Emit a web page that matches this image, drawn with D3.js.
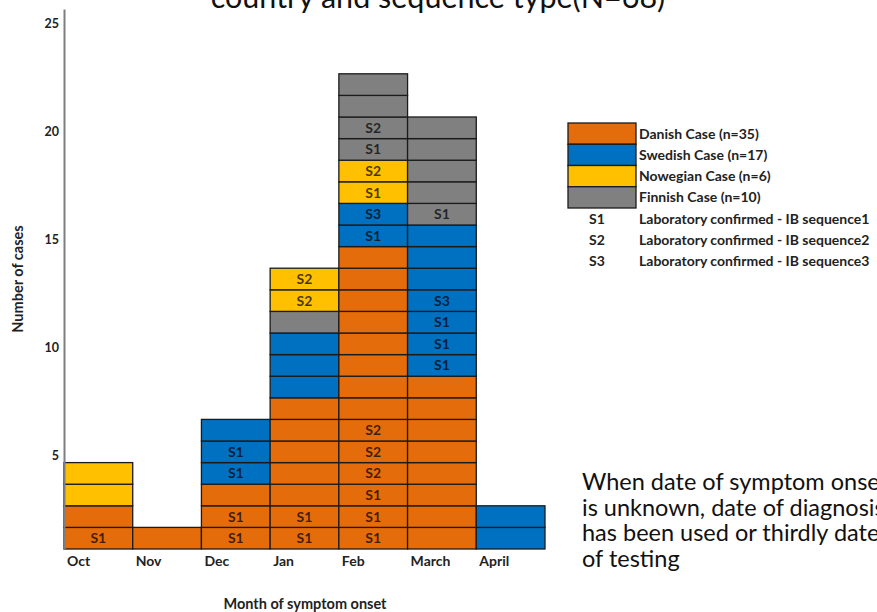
<!DOCTYPE html>
<html>
<head>
<meta charset="utf-8">
<script src="https://cdn.jsdelivr.net/npm/d3@7"></script>
<style>
  html, body { margin: 0; padding: 0; background: #fff; }
  svg { display: block; font-family: "Lato", "Open Sans", sans-serif; }
</style>
</head>
<body>
<svg id="chart" width="877" height="612"></svg>
<script>
// Month categories along the x axis
const months = ["Oct", "Nov", "Dec", "Jan", "Feb", "March", "April"];

// Number of cases per month for each country
const danishCases    = [2, 1, 3, 7, 14, 8, 0];
const swedishCases   = [0, 0, 3, 3, 2, 7, 2];
const norwegianCases = [2, 0, 0, 2, 2, 0, 0];
const finnishCases   = [0, 0, 0, 1, 4, 5, 0];

// Sequence type of each case, listed from the bottom of each country's block
const danishSeq    = [["S1"], [], ["S1", "S1"], ["S1", "S1"], ["S1", "S1", "S1", "S2", "S2", "S2"], [], []];
const swedishSeq   = [[], [], ["S1", "S1"], [], ["S1", "S3"], ["S1", "S1", "S1", "S3"], []];
const norwegianSeq = [[], [], [], ["S2", "S2"], ["S1", "S2"], [], []];
const finnishSeq   = [[], [], [], [], ["S1", "S2"], ["S1"], []];

// Stacking order of the countries within each month (bottom to top)
const stackOrder = [
  ["DK", "SE", "NO", "FI"],
  ["DK", "SE", "NO", "FI"],
  ["DK", "SE", "NO", "FI"],
  ["DK", "SE", "FI", "NO"],
  ["DK", "SE", "NO", "FI"],
  ["DK", "SE", "NO", "FI"],
  ["DK", "SE", "NO", "FI"]
];

// Country keys, legend names and fills
const countryKeys   = ["DK", "SE", "NO", "FI"];
const countryLabels = ["Danish Case", "Swedish Case", "Nowegian Case", "Finnish Case"];
const countryColors = ["#E46C0A", "#0070C0", "#FFC000", "#808080"];

// Sequence legend
const seqCodes  = ["S1", "S2", "S3"];
const seqLabels = ["Laboratory confirmed - IB sequence1",
                   "Laboratory confirmed - IB sequence2",
                   "Laboratory confirmed - IB sequence3"];

// Y tick values
const yTicks = [5, 10, 15, 20, 25];

const noteLines = ["When date of symptom onset",
                   "is unknown, date of diagnosis",
                   "has been used or thirdly date",
                   "of testing"];

const casesBy = { DK: danishCases, SE: swedishCases, NO: norwegianCases, FI: finnishCases };
const seqBy   = { DK: danishSeq, SE: swedishSeq, NO: norwegianSeq, FI: finnishSeq };
const color   = d3.scaleOrdinal().domain(countryKeys).range(countryColors);

const svg = d3.select("#chart");

const x = d3.scaleBand().domain(months).range([64, 545]).padding(0);
const y = d3.scaleLinear().domain([0, 25]).range([549, 9]);

// Build one cell per case
const cells = [];
months.forEach((m, i) => {
  let base = 0;
  stackOrder[i].forEach(code => {
    const n = casesBy[code][i];
    for (let k = 0; k < n; k++) {
      cells.push({ month: m, code, v: base + k, label: seqBy[code][i][k] || "" });
    }
    base += n;
  });
});

// Title (runs off the top of the canvas)
svg.append("text")
  .attr("x", 438).attr("y", 8)
  .attr("text-anchor", "middle")
  .attr("font-size", 30.5)
  .attr("fill", "#111")
  .text(`country and sequence type(N=${d3.sum(countryKeys, k => d3.sum(casesBy[k]))})`);

// Cells
const g = svg.append("g");
g.selectAll("rect.cell").data(cells).join("rect")
  .attr("class", "cell")
  .attr("x", d => x(d.month))
  .attr("y", d => y(d.v + 1))
  .attr("width", x.bandwidth())
  .attr("height", d => y(d.v) - y(d.v + 1))
  .attr("fill", d => color(d.code))
  .attr("stroke", "#1b1b1b")
  .attr("stroke-width", 1.3);

g.selectAll("text.seq").data(cells.filter(d => d.label)).join("text")
  .attr("class", "seq")
  .attr("x", d => x(d.month) + x.bandwidth() / 2)
  .attr("y", d => (y(d.v) + y(d.v + 1)) / 2 + 5)
  .attr("text-anchor", "middle")
  .attr("font-size", 14)
  .attr("font-weight", "bold")
  .attr("fill", "#000")
  .attr("fill-opacity", 0.72)
  .text(d => d.label);

// Y axis
const yAxis = svg.append("g")
  .attr("transform", "translate(64,0)")
  .call(d3.axisLeft(y).tickValues(yTicks).tickSize(0).tickPadding(5));
yAxis.select(".domain").attr("stroke", "#7f7f7f").attr("stroke-width", 2);
yAxis.selectAll(".tick text")
  .attr("dy", "0.32em")
  .attr("transform", "translate(0,14)")
  .attr("font-size", 12.5)
  .attr("font-weight", "bold")
  .attr("font-family", "Lato, sans-serif")
  .attr("fill", "#222");

// X axis labels
const xAxis = svg.append("g")
  .attr("transform", `translate(0,${y(0)})`)
  .call(d3.axisBottom(x).tickSize(0).tickPadding(7));
xAxis.select(".domain").remove();
xAxis.selectAll(".tick text")
  .attr("x", -x.bandwidth() / 2 + 3)
  .attr("text-anchor", "start")
  .attr("font-size", 14)
  .attr("font-weight", "bold")
  .attr("font-family", "Lato, sans-serif")
  .attr("fill", "#222");

// Axis titles
svg.append("text")
  .attr("x", 305).attr("y", 609)
  .attr("text-anchor", "middle")
  .attr("font-size", 14.5)
  .attr("font-weight", "bold")
  .attr("fill", "#222")
  .text("Month of symptom onset");

svg.append("text")
  .attr("transform", "translate(23,279) rotate(-90)")
  .attr("text-anchor", "middle")
  .attr("font-size", 14.5)
  .attr("font-weight", "bold")
  .attr("fill", "#222")
  .text("Number of cases");

// Legend: countries
const legY = d3.scaleBand().domain(countryKeys).range([123, 208]);
const leg = svg.append("g");
leg.selectAll("rect").data(countryKeys).join("rect")
  .attr("x", 568).attr("y", d => legY(d))
  .attr("width", 68).attr("height", legY.bandwidth())
  .attr("fill", d => color(d))
  .attr("stroke", "#1b1b1b").attr("stroke-width", 1.3);
leg.selectAll("text").data(countryKeys).join("text")
  .attr("x", 639).attr("y", d => legY(d) + legY.bandwidth() / 2 + 5)
  .attr("font-size", 14)
  .attr("font-weight", "bold")
  .attr("fill", "#222")
  .text((d, i) => `${countryLabels[i]} (n=${d3.sum(casesBy[d])})`);

// Legend: sequence types
const seqY = d3.scaleBand().domain(seqCodes).range([208, 271]);
const sleg = svg.append("g");
sleg.selectAll("text.code").data(seqCodes).join("text")
  .attr("class", "code")
  .attr("x", 597).attr("y", d => seqY(d) + seqY.bandwidth() / 2 + 5)
  .attr("text-anchor", "middle")
  .attr("font-size", 14).attr("font-weight", "bold").attr("fill", "#222")
  .text(d => d);
sleg.selectAll("text.name").data(seqCodes).join("text")
  .attr("class", "name")
  .attr("x", 639).attr("y", d => seqY(d) + seqY.bandwidth() / 2 + 5)
  .attr("font-size", 14).attr("font-weight", "bold").attr("fill", "#222")
  .text((d, i) => seqLabels[i]);

// Note about onset dates
svg.append("g").selectAll("text").data(noteLines).join("text")
  .attr("x", 582)
  .attr("y", (d, i) => 490 + i * 25.7)
  .attr("font-size", 23.5)
  .attr("fill", "#111")
  .text(d => d);
</script>
</body>
</html>
